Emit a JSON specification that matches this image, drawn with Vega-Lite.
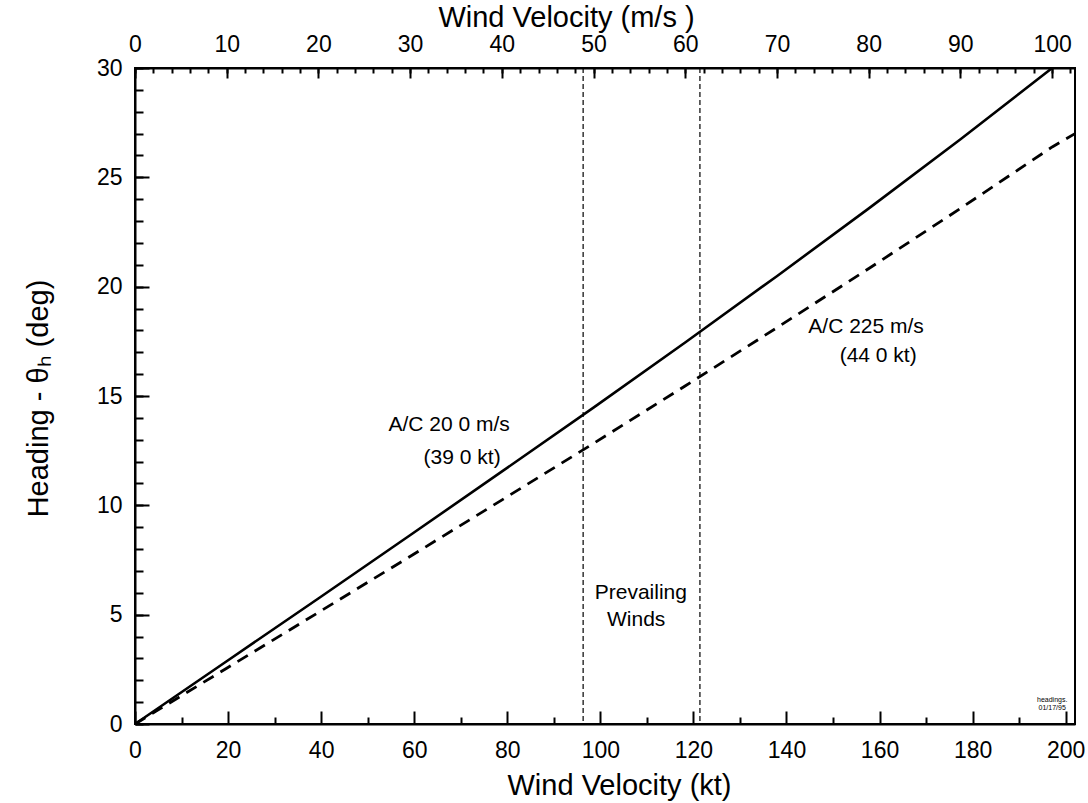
{
  "$schema": "https://vega.github.io/schema/vega-lite/v6.json",
  "width": 940,
  "height": 656,
  "autosize": {"type": "none"},
  "padding": {"left": 135, "top": 68, "right": 13, "bottom": 79},
  "background": "white",
  "config": {
    "font": "Liberation Sans",
    "view": {"stroke": "black", "strokeWidth": 2},
    "axis": {
      "domainColor": "black", "domainWidth": 2,
      "tickColor": "black", "tickWidth": 2,
      "labelColor": "black", "titleColor": "black",
      "grid": false,
      "labelFont": "Liberation Sans", "titleFont": "Liberation Sans",
      "titleFontWeight": "normal",
      "labelFontSize": 23, "titleFontSize": 29,
      "labelFlush": false, "labelOverlap": false
    }
  },
  "datasets": {
    "solid": [
      {"kt": 0, "deg": 0}, {"kt": 19.7, "deg": 2.87}, {"kt": 39.4, "deg": 5.74},
      {"kt": 59.1, "deg": 8.63}, {"kt": 78.8, "deg": 11.54}, {"kt": 98.6, "deg": 14.48},
      {"kt": 118.3, "deg": 17.46}, {"kt": 138.0, "deg": 20.49}, {"kt": 157.7, "deg": 23.58},
      {"kt": 177.4, "deg": 26.74}, {"kt": 197.1, "deg": 30.0}
    ],
    "dashed": [
      {"kt": 0, "deg": 0}, {"kt": 19.7, "deg": 2.55}, {"kt": 39.4, "deg": 5.10},
      {"kt": 59.1, "deg": 7.66}, {"kt": 78.8, "deg": 10.24}, {"kt": 98.6, "deg": 12.84},
      {"kt": 118.3, "deg": 15.47}, {"kt": 138.0, "deg": 18.13}, {"kt": 157.7, "deg": 20.83},
      {"kt": 177.4, "deg": 23.58}, {"kt": 197.1, "deg": 26.39}, {"kt": 202, "deg": 27.0}
    ],
    "winds": [{"kt": 96.3}, {"kt": 121.4}],
    "notes": [
      {"kt": 67.5, "deg": 13.67, "label": "A/C 20 0 m/s"},
      {"kt": 70.3, "deg": 12.16, "label": "(39 0 kt)"},
      {"kt": 157.1, "deg": 18.15, "label": "A/C 225 m/s"},
      {"kt": 159.7, "deg": 16.83, "label": "(44 0 kt)"},
      {"kt": 108.7, "deg": 5.99, "label": "Prevailing"},
      {"kt": 107.7, "deg": 4.76, "label": "Winds"}
    ],
    "tiny": [
      {"kt": 197.1, "deg": 1.1, "label": "headings."},
      {"kt": 197.1, "deg": 0.73, "label": "01/17/95"}
    ],
    "top": [{"ms": 0}, {"ms": 102.5}],
    "ydom": [{"deg": 0}, {"deg": 30}]
  },
  "layer": [
    {
      "layer": [
        {
          "data": {"name": "solid"},
          "mark": {"type": "line", "color": "black", "strokeWidth": 2.6},
          "encoding": {
            "x": {
              "field": "kt", "type": "quantitative",
              "scale": {"domain": [0, 202], "nice": false, "zero": false},
              "axis": {
                "orient": "bottom",
                "title": "Wind Velocity (kt)",
                "values": [0,5,10,15,20,25,30,35,40,45,50,55,60,65,70,75,80,85,90,95,100,105,110,115,120,125,130,135,140,145,150,155,160,165,170,175,180,185,190,195,200],
                "labelExpr": "datum.value % 20 == 0 ? datum.label : ''",
                "tickSize": {"condition": {"test": "datum.value % 20 == 0", "value": -13}, "value": -7},
                "labelPadding": 28,
                "labelOverlap": false,
                "titleX": 484, "titleY": 61, "titleBaseline": "middle", "titleAlign": "center"
              }
            },
            "y": {
              "field": "deg", "type": "quantitative",
              "scale": {"domain": [0, 30], "nice": false, "zero": false},
              "axis": {
                "orient": "left",
                "title": "Heading - θₕ (deg)",
                "values": [0, 5, 10, 15, 20, 25, 30],
                "tickSize": -14,
                "labelPadding": 27,
                "labelOverlap": false,
                "titleX": -97, "titleY": 330, "titleAngle": 270, "titleBaseline": "middle", "titleAlign": "center"
              }
            }
          }
        },
        {
          "data": {"name": "dashed"},
          "mark": {"type": "line", "color": "black", "strokeWidth": 2.8, "strokeDash": [12, 8]},
          "encoding": {
            "x": {"field": "kt", "type": "quantitative"},
            "y": {"field": "deg", "type": "quantitative"}
          }
        },
        {
          "data": {"name": "winds"},
          "mark": {"type": "rule", "color": "black", "strokeWidth": 1.2, "strokeDash": [5, 3]},
          "encoding": {
            "x": {"field": "kt", "type": "quantitative"}
          }
        },
        {
          "data": {"name": "notes"},
          "mark": {"type": "text", "fontSize": 21, "color": "black", "font": "Liberation Sans"},
          "encoding": {
            "x": {"field": "kt", "type": "quantitative"},
            "y": {"field": "deg", "type": "quantitative"},
            "text": {"field": "label"}
          }
        },
        {
          "data": {"name": "tiny"},
          "mark": {"type": "text", "fontSize": 7, "color": "black", "font": "Liberation Sans"},
          "encoding": {
            "x": {"field": "kt", "type": "quantitative"},
            "y": {"field": "deg", "type": "quantitative"},
            "text": {"field": "label"}
          }
        }
      ]
    },
    {
      "data": {"name": "ydom"},
      "mark": {"type": "point", "opacity": 0},
      "encoding": {
        "y": {
          "field": "deg", "type": "quantitative",
          "scale": {"domain": [0, 30], "nice": false, "zero": false},
          "axis": {
            "orient": "left",
            "title": null,
            "values": [0,1,2,3,4,5,6,7,8,9,10,11,12,13,14,15,16,17,18,19,20,21,22,23,24,25,26,27,28,29,30],
            "tickSize": -8,
            "labels": false,
            "domain": false
          }
        }
      }
    },
    {
      "data": {"name": "top"},
      "mark": {"type": "point", "opacity": 0},
      "encoding": {
        "x": {
          "field": "ms", "type": "quantitative",
          "scale": {"domain": [0, 102.5], "nice": false, "zero": false},
          "axis": {
            "orient": "top",
            "title": "Wind Velocity (m/s )",
            "values": [0,10,20,30,40,50,60,70,80,90,100],
            "tickSize": -10,
            "labelPadding": 22,
            "labelOverlap": false,
            "titleX": 431, "titleY": -51, "titleBaseline": "middle", "titleAlign": "center"
          }
        }
      }
    },
    {
      "data": {"name": "top"},
      "mark": {"type": "point", "opacity": 0},
      "encoding": {
        "x": {
          "field": "ms", "type": "quantitative",
          "scale": {"domain": [0, 102.5], "nice": false, "zero": false},
          "axis": {
            "orient": "top",
            "title": null,
            "values": [0,2,4,6,8,10,12,14,16,18,20,22,24,26,28,30,32,34,36,38,40,42,44,46,48,50,52,54,56,58,60,62,64,66,68,70,72,74,76,78,80,82,84,86,88,90,92,94,96,98,100,102],
            "tickSize": -5,
            "labels": false,
            "domain": false
          }
        }
      }
    }
  ],
  "resolve": {"scale": {"x": "independent", "y": "independent"}}
}
